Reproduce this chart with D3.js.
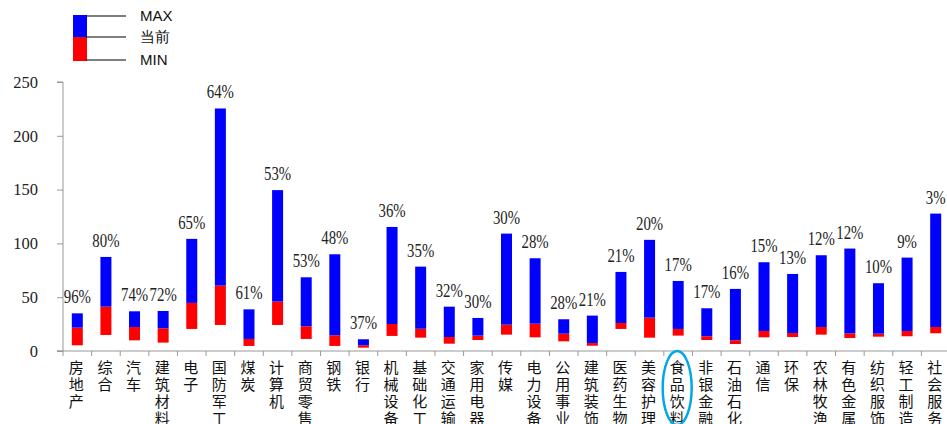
<!DOCTYPE html>
<html>
<head>
<meta charset="utf-8">
<script src="https://cdn.jsdelivr.net/npm/d3@7"></script>
<style>
  body { margin: 0; background: #fff; }
  svg { display: block; }
</style>
</head>
<body>
<svg id="chart" width="947" height="424"></svg>
<script>
var categories = ["房地产","综合","汽车","建筑材料","电子","国防军工","煤炭","计算机","商贸零售","钢铁",
                  "银行","机械设备","基础化工","交通运输","家用电器","传媒","电力设备","公用事业","建筑装饰","医药生物",
                  "美容护理","食品饮料","非银金融","石油石化","通信","环保","农林牧渔","有色金属","纺织服饰","轻工制造","社会服务"]
var maxVals = [35,87.4,36.9,37.2,104.2,225.4,38.7,149.5,68.5,89.9,
               10.9,115.3,78.4,41.2,30.7,109.1,86.2,29.5,32.9,73.5,
               103.3,65.1,39.7,57.7,82.5,71.6,89,95.2,63,86.8,127.7]
var curVals = [21.7,41.2,22.3,21.1,44.7,60.8,11.2,45.9,23,14.6,
               5.3,25.1,20.7,13,14.3,24.5,25.4,16.1,7.4,26,
               31,20.5,13.7,9.9,18.6,16.7,22.3,16.4,16.1,18.6,22.3]
var minVals = [5.3,14.9,9.9,7.8,20.5,24.2,4.7,24.2,11.2,4.7,
               3.1,14,12.4,6.8,10.2,15.2,12.7,9,4.9,20.5,
               12.4,14.3,10.2,6.5,12.7,13,15.2,12.1,13.3,13.7,16.5]
var pctLabels = ["96%","80%","74%","72%","65%","64%","61%","53%","53%","48%",
                 "37%","36%","35%","32%","30%","30%","28%","28%","21%","21%",
                 "20%","17%","17%","16%","15%","13%","12%","12%","10%","9%","3%"]
var yTicks = [0,50,100,150,200,250]
var legendItems = ["MAX","当前","MIN"]
var highlight = "食品饮料"

var rows = categories.map(function(c, i){
  return {cat: c, max: maxVals[i], cur: curVals[i], min: minVals[i], pct: pctLabels[i]}
})

var svg = d3.select("#chart")

var scaleX = d3.scaleBand().domain(categories).range([63, 950])
var scaleY = d3.scaleLinear().domain([0, 250]).range([351, 82])
var barW = 11
var mid = function(c){ return scaleX(c) + scaleX.bandwidth()/2 }

// y axis
var axisY = d3.axisLeft(scaleY).tickValues(yTicks).tickSize(6).tickPadding(19)
var gy = svg.append("g").attr("transform", "translate(63,0)").call(axisY)
gy.select(".domain").attr("stroke", "#999").attr("d", "M-6,82H0V351H-6")
gy.selectAll(".tick line").attr("stroke", "#999")
gy.selectAll(".tick text").attr("font-family", "Liberation Serif").attr("font-size", 16.5).attr("fill", "#222")

// x axis line with ticks between categories
svg.append("line").attr("x1", 57).attr("x2", 950).attr("y1", 351).attr("y2", 351).attr("stroke", "#999")
svg.append("g").selectAll("line").data(categories).enter().append("line")
  .attr("x1", function(d){ return scaleX(d) }).attr("x2", function(d){ return scaleX(d) })
  .attr("y1", 351).attr("y2", 356).attr("stroke", "#999")

// red part: min -> current
svg.append("g").selectAll("rect").data(rows).enter().append("rect")
  .attr("x", function(d){ return mid(d.cat) - barW/2 })
  .attr("width", barW)
  .attr("y", function(d){ return scaleY(d.cur) })
  .attr("height", function(d){ return scaleY(d.min) - scaleY(d.cur) })
  .attr("fill", "#ff0000")

// blue part: current -> max
svg.append("g").selectAll("rect").data(rows).enter().append("rect")
  .attr("x", function(d){ return mid(d.cat) - barW/2 })
  .attr("width", barW)
  .attr("y", function(d){ return scaleY(d.max) })
  .attr("height", function(d){ return scaleY(d.cur) - scaleY(d.max) })
  .attr("fill", "#0000ff")

// percentage labels (tall narrow serif digits like the original)
svg.append("g").selectAll("text").data(rows).enter().append("text")
  .attr("transform", function(d){ return "translate(" + mid(d.cat) + "," + (scaleY(d.max) - 10) + ") scale(0.8,1)" })
  .attr("text-anchor", "middle")
  .attr("font-family", "Liberation Serif").attr("font-size", 18.5).attr("fill", "#222")
  .text(function(d){ return d.pct })

// vertical category labels
var xl = svg.append("g").selectAll("text").data(categories).enter().append("text")
  .attr("font-family", "Noto Sans CJK SC").attr("font-size", 15).attr("fill", "#111")
  .attr("text-anchor", "middle")
xl.each(function(c){
  var t = d3.select(this)
  c.split("").forEach(function(ch, j){
    t.append("tspan").attr("x", mid(c) - 1).attr("y", 373 + j*17).text(ch)
  })
})

// highlight oval
svg.append("ellipse")
  .attr("cx", mid(highlight) - 1).attr("cy", 388)
  .attr("rx", 14.5).attr("ry", 37)
  .attr("fill", "none").attr("stroke", "#00a8e8").attr("stroke-width", 2.5)

// legend
var lg = svg.append("g")
lg.append("rect").attr("x", 73).attr("y", 15).attr("width", 14).attr("height", 22).attr("fill", "#0000ff")
lg.append("rect").attr("x", 73).attr("y", 37).attr("width", 14).attr("height", 24).attr("fill", "#ff0000")
var ly = [16, 37, 60]
lg.selectAll("line").data(legendItems).enter().append("line")
  .attr("x1", 86).attr("x2", 126)
  .attr("y1", function(d, i){ return ly[i] }).attr("y2", function(d, i){ return ly[i] })
  .attr("stroke", "#000").attr("stroke-width", 1.2)
lg.selectAll("text").data(legendItems).enter().append("text")
  .attr("x", 140).attr("y", function(d, i){ return ly[i] + 5 })
  .attr("font-family", "Liberation Sans").attr("font-size", 15).attr("fill", "#111")
  .text(function(d){ return d })
</script>
</body>
</html>
